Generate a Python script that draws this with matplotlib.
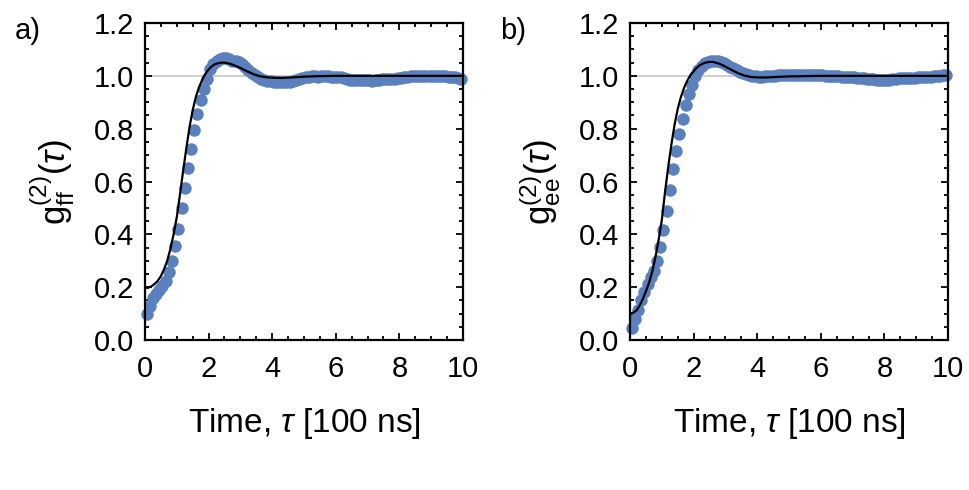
import numpy as np
import matplotlib.pyplot as plt
from matplotlib.ticker import MultipleLocator

plt.rcParams['font.family'] = ['Liberation Sans', 'DejaVu Sans']
plt.rcParams['mathtext.fontset'] = 'custom'
plt.rcParams['mathtext.rm'] = 'Liberation Sans'
plt.rcParams['mathtext.it'] = 'Liberation Sans:italic'

# measured g2 points, time bins of 0.1 (units of 100 ns), starting at 0.05
tau_step = 0.1
g2_ff = [0.100, 0.130, 0.158, 0.175, 0.188, 0.205, 0.225, 0.258, 0.300, 0.355,
         0.420, 0.500, 0.576, 0.653, 0.725, 0.795, 0.855, 0.908, 0.950, 0.990,
         1.025, 1.045, 1.058, 1.065, 1.068, 1.068, 1.062, 1.058, 1.055, 1.052,
         1.045, 1.035, 1.022, 1.010, 1.002, 0.995, 0.990, 0.985, 0.982, 0.980,
         0.978, 0.977, 0.976, 0.976, 0.977, 0.978, 0.980, 0.984, 0.988, 0.992,
         0.995, 0.997, 0.998, 0.998, 0.997, 0.998, 0.999, 0.998, 0.996, 0.995,
         0.995, 0.994, 0.991, 0.988, 0.985, 0.984, 0.983, 0.983, 0.984, 0.984,
         0.983, 0.982, 0.983, 0.985, 0.987, 0.988, 0.988, 0.989, 0.990, 0.992,
         0.993, 0.995, 0.997, 0.998, 0.999, 1.000, 1.000, 0.999, 1.000, 1.000,
         1.000, 0.999, 0.999, 0.998, 0.998, 0.997, 0.996, 0.995, 0.993, 0.990]
g2_ee = [0.045, 0.080, 0.115, 0.150, 0.182, 0.212, 0.238, 0.260, 0.300, 0.352,
         0.415, 0.487, 0.567, 0.648, 0.717, 0.780, 0.837, 0.888, 0.930, 0.967,
         1.000, 1.022, 1.038, 1.048, 1.054, 1.057, 1.057, 1.055, 1.052, 1.048,
         1.042, 1.035, 1.028, 1.022, 1.016, 1.011, 1.007, 1.004, 1.000, 0.998,
         0.997, 0.997, 0.998, 0.999, 1.000, 1.001, 1.002, 1.003, 1.003, 1.004,
         1.004, 1.004, 1.004, 1.004, 1.003, 1.003, 1.003, 1.003, 1.003, 1.002,
         1.002, 1.001, 1.000, 1.000, 0.999, 0.998, 0.997, 0.996, 0.996, 0.995,
         0.994, 0.993, 0.992, 0.991, 0.990, 0.989, 0.988, 0.986, 0.985, 0.985,
         0.985, 0.986, 0.988, 0.990, 0.991, 0.992, 0.992, 0.993, 0.993, 0.993,
         0.994, 0.995, 0.996, 0.997, 0.997, 0.998, 1.000, 1.001, 1.003, 1.004]

# fitted model curves
fit_t = [0.0, 0.1, 0.2, 0.3, 0.4, 0.5, 0.6, 0.7, 0.8, 0.9,
         1.0, 1.1, 1.2, 1.3, 1.4, 1.5, 1.6, 1.7, 1.8, 1.9,
         2.0, 2.1, 2.2, 2.3, 2.4, 2.5, 2.6, 2.7, 2.8, 2.9,
         3.0, 3.2, 3.4, 3.6, 3.8, 4.0, 4.3, 4.6, 5.0, 5.5,
         6.0, 7.0, 8.0, 9.0, 10.0]
fit_ff = [0.197, 0.198, 0.203, 0.212, 0.224, 0.242, 0.268, 0.300, 0.345, 0.400,
          0.465, 0.550, 0.640, 0.725, 0.805, 0.870, 0.920, 0.957, 0.985, 1.008,
          1.024, 1.036, 1.044, 1.048, 1.050, 1.050, 1.048, 1.045, 1.040, 1.035,
          1.030, 1.018, 1.007, 0.999, 0.995, 0.993, 0.992, 0.994, 0.997, 0.999,
          1.000, 1.000, 1.000, 1.000, 1.000]
fit_ee = [0.100, 0.103, 0.112, 0.130, 0.155, 0.185, 0.218, 0.260, 0.315, 0.380,
          0.455, 0.560, 0.655, 0.740, 0.815, 0.875, 0.920, 0.955, 0.982, 1.003,
          1.018, 1.031, 1.041, 1.047, 1.051, 1.053, 1.053, 1.050, 1.046, 1.041,
          1.035, 1.022, 1.010, 1.001, 0.996, 0.994, 0.994, 0.996, 0.998, 0.999,
          1.000, 1.000, 1.000, 1.000, 1.000]

dot_color = '#5b80be'

fig = plt.figure(figsize=(9.69, 4.90), dpi=100)
ax1 = fig.add_axes([0.1496, 0.306, 0.3282, 0.647])
ax2 = fig.add_axes([0.6502, 0.306, 0.3282, 0.647])

panels = [(ax1, g2_ff, fit_ff, r'$\mathrm{g}^{(2)}_{\mathrm{ff}}(\tau)$', 'a)'),
          (ax2, g2_ee, fit_ee, r'$\mathrm{g}^{(2)}_{\mathrm{ee}}(\tau)$', 'b)')]

for ax, pts, fit, ylab, tag in panels:
    t = 0.05 + tau_step * np.arange(len(pts))
    ax.axhline(1.0, color='#cfcfcf', lw=1.5, zorder=1)
    ax.plot(t, pts, 'o', ms=9, color=dot_color, mec='none', zorder=2, clip_on=False)
    ax.plot(fit_t, fit, color='black', lw=1.6, zorder=3)
    ax.set_xlim(0, 10)
    ax.set_ylim(0, 1.2)
    ax.xaxis.set_major_locator(MultipleLocator(2))
    ax.xaxis.set_minor_locator(MultipleLocator(0.5))
    ax.yaxis.set_major_locator(MultipleLocator(0.2))
    ax.yaxis.set_minor_locator(MultipleLocator(0.05))
    ax.yaxis.set_major_formatter(plt.FormatStrFormatter('%.1f'))
    ax.tick_params(which='both', direction='in', top=True, right=True, labelsize=21, width=1.3)
    ax.tick_params(which='major', length=5)
    ax.tick_params(which='minor', length=3)
    ax.tick_params(axis='x', pad=11)
    ax.tick_params(axis='y', pad=8)
    for s in ax.spines.values():
        s.set_linewidth(1.6)
    ax.set_xlabel(r'Time, $\tau$ [100 ns]', fontsize=24, labelpad=16)
    ax.set_ylabel(ylab, fontsize=25, labelpad=12)
    ax.text(-0.41, 0.975, tag, transform=ax.transAxes, fontsize=21, va='center', ha='left')

fig.savefig('out.png', dpi=100)
